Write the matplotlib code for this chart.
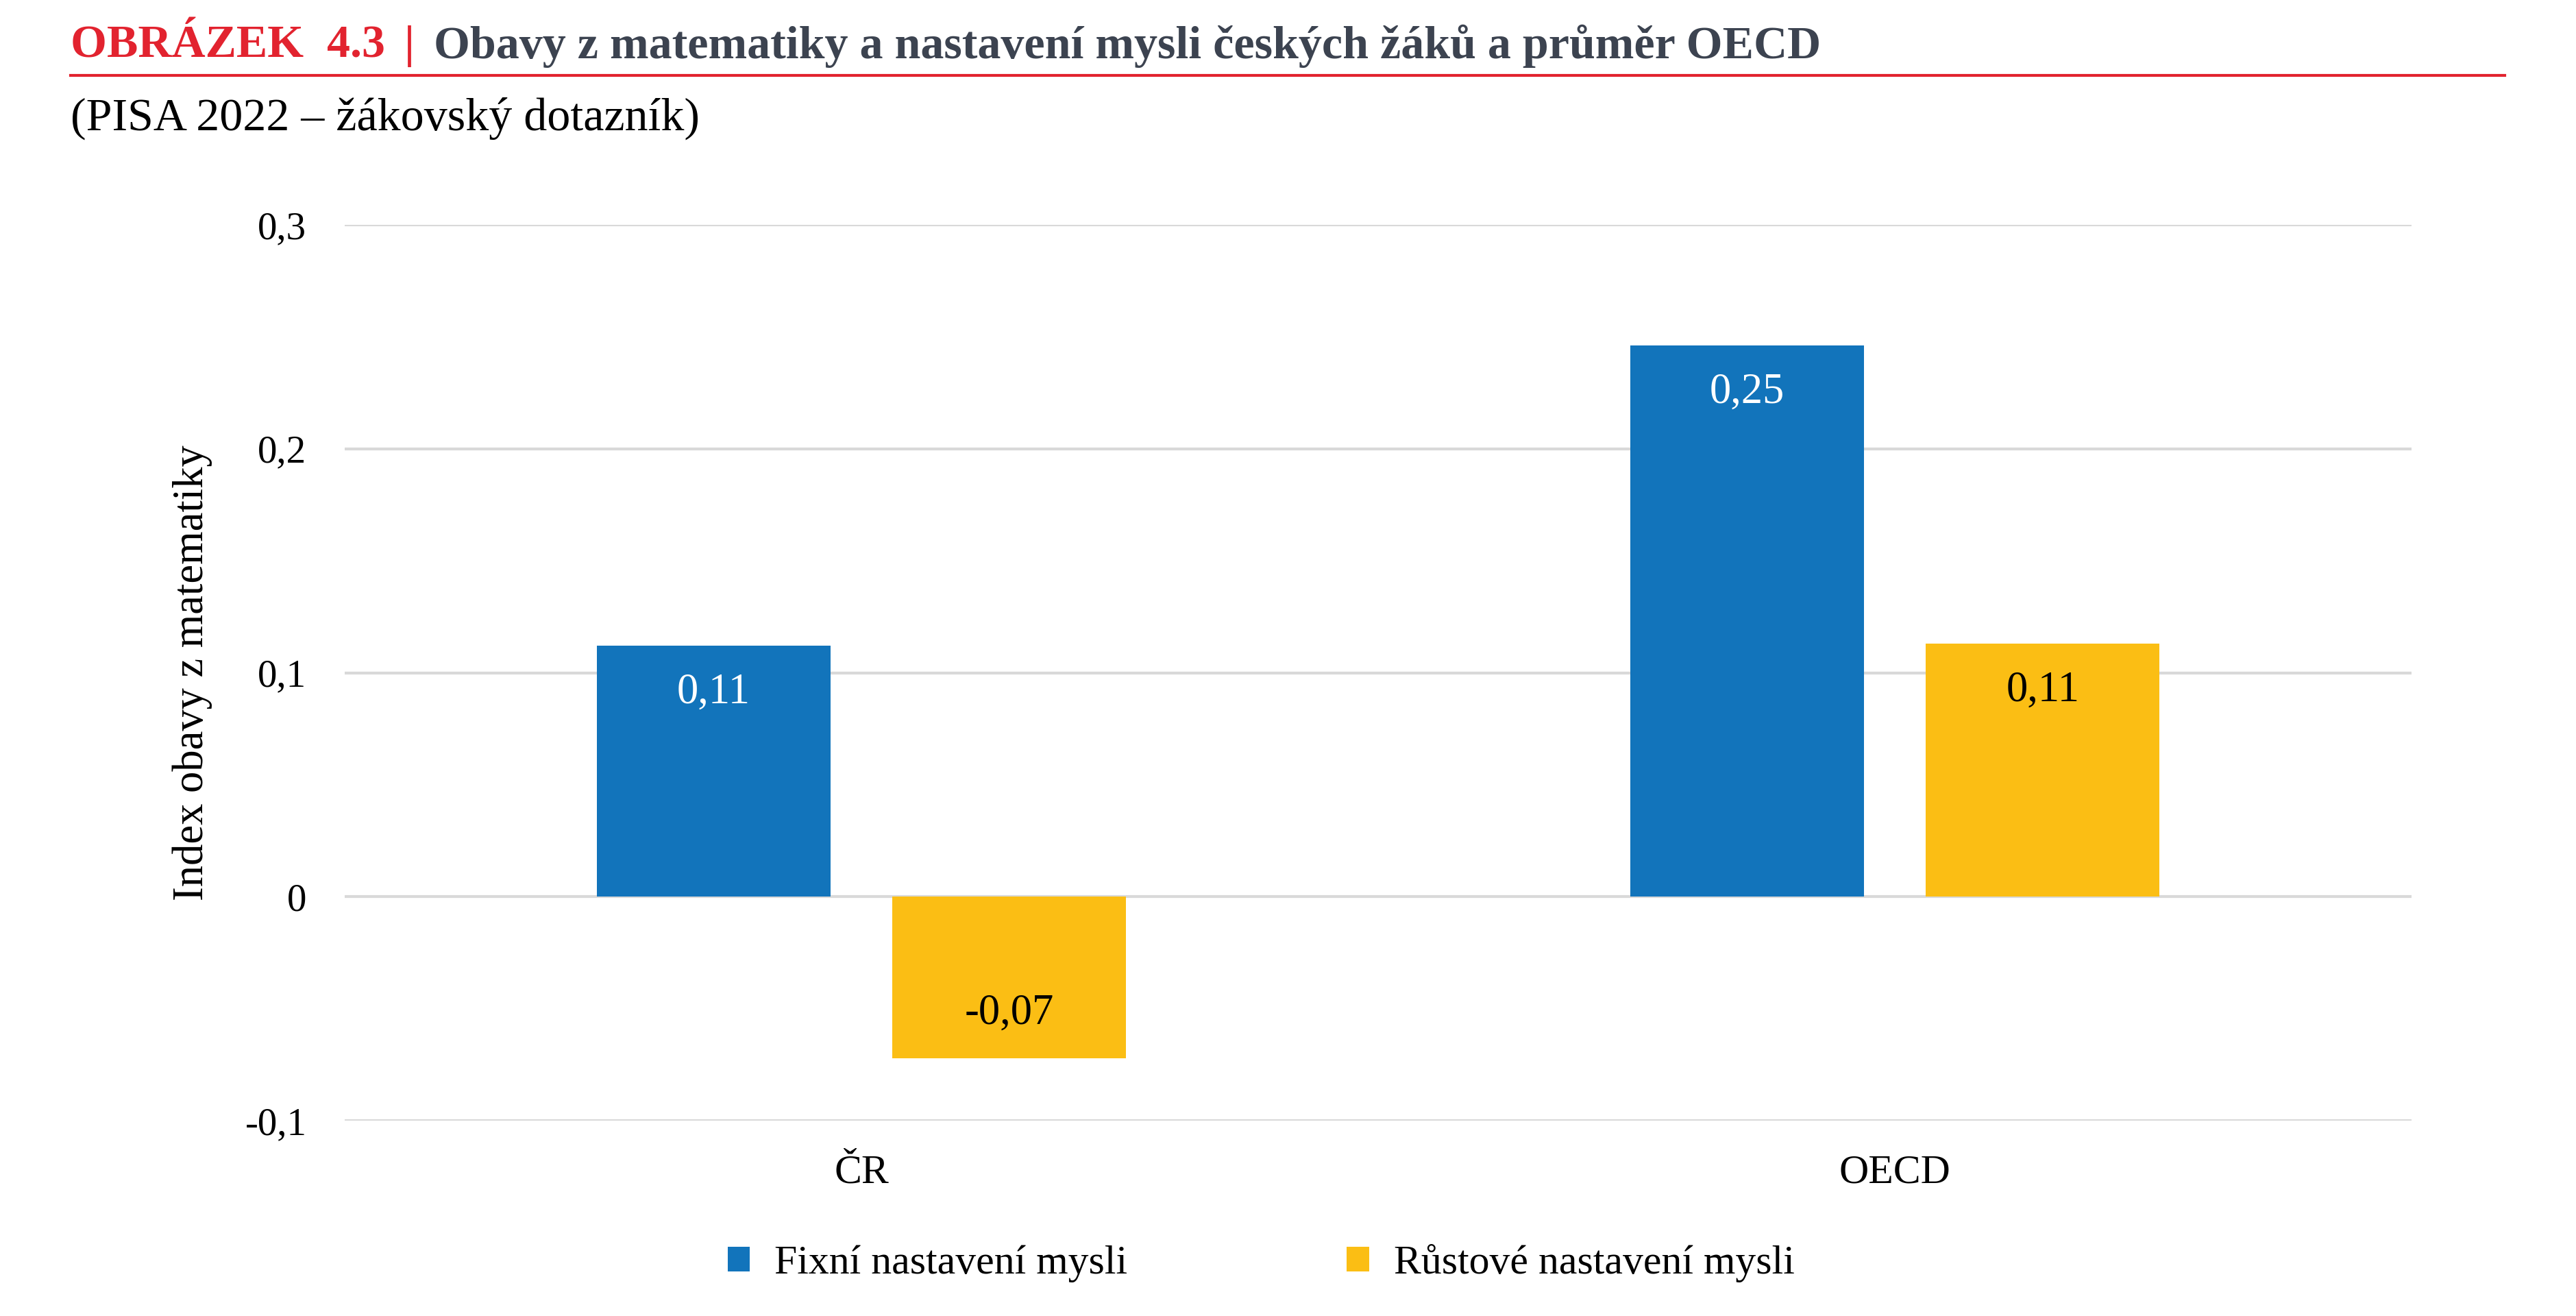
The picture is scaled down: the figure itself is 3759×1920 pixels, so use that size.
import numpy as np
import matplotlib
matplotlib.use("Agg")
import matplotlib.pyplot as plt

plt.rcParams['font.family'] = ['Liberation Serif', 'DejaVu Serif']

# data
categories = ["ČR", "OECD"]
series_names = ["Fixní nastavení mysli", "Růstové nastavení mysli"]
fixed_vals = [0.112, 0.246]
growth_vals = [-0.072, 0.113]
fixed_labels = ["0,11", "0,25"]
growth_labels = ["-0,07", "0,11"]
yticks = [-0.1, 0.0, 0.1, 0.2, 0.3]
ytick_labels = ["-0,1", "0", "0,1", "0,2", "0,3"]

BLUE = "#1274BB"
YELLOW = "#FBBE14"
RED = "#E2232F"
DARK = "#3C4350"
GRID = "#D9D9D9"

W, H = 3759, 1920
fig = plt.figure(figsize=(W / 100, H / 100), dpi=100)

# plot area in pixel coords -> figure fractions
x0, x1 = 503, 3519
y_top, y_bot = 328, 1635
ax = fig.add_axes([x0 / W, 1 - y_bot / H, (x1 - x0) / W, (y_bot - y_top) / H])

x = np.arange(len(categories))
bw = 0.226
off = 0.143
b1 = ax.bar(x - off, fixed_vals, bw, color=BLUE, zorder=3, label=series_names[0])
b2 = ax.bar(x + off, growth_vals, bw, color=YELLOW, zorder=3, label=series_names[1])

ax.set_xlim(-0.5, len(categories) - 0.5)
ax.set_ylim(-0.1, 0.3)
ax.set_yticks(yticks)
ax.set_yticklabels(ytick_labels)
ax.set_xticks(x)
ax.set_xticklabels(categories)
ax.tick_params(axis='y', length=0, pad=40, labelsize=41)
ax.tick_params(axis='x', length=0, pad=36, labelsize=43)
ax.grid(axis='y', color=GRID, linewidth=3, zorder=0)
for s in ax.spines.values():
    s.set_visible(False)
ax.set_ylabel("Index obavy z matematiky", fontsize=45, labelpad=34)

# value labels near the top (or bottom) end of each bar
for bars, labels, col in [(b1, fixed_labels, "white"), (b2, growth_labels, "black")]:
    for rect, lab in zip(bars, labels):
        h = rect.get_height()
        cx = rect.get_x() + rect.get_width() / 2
        if h >= 0:
            ax.text(cx, h - 0.021, lab, ha='center', va='center', color=col, fontsize=45, zorder=4)
        else:
            ax.text(cx, h + 0.020, lab, ha='center', va='center', color=col, fontsize=45, zorder=4)

# legend (slightly left of centre, as in the original)
leg = fig.legend(handles=[b1, b2], labels=series_names, loc='center',
                 bbox_to_anchor=(0.4895, 1 - 1843 / H), ncol=2, frameon=False,
                 fontsize=43, handlelength=0.55, handleheight=0.55,
                 columnspacing=5.35, handletextpad=0.6)

# title block
fig.canvas.draw()
r = fig.canvas.get_renderer()
ty = 1 - 67 / H
t1 = fig.text(103 / W, ty, "OBRÁZEK  4.3", color=RED, fontsize=49, fontweight='bold', va='center')
bb = t1.get_window_extent(r)
t2 = fig.text((bb.x1 + 28) / W, ty, "|", color=RED, fontsize=49, fontweight='bold', va='center')
bb = t2.get_window_extent(r)
fig.text((bb.x1 + 28) / W, ty, "Obavy z matematiky a nastavení mysli českých žáků a průměr OECD",
         color=DARK, fontsize=49, fontweight='bold', va='center')
fig.add_artist(plt.Line2D([103 / W, 3655 / W], [1 - 110 / H, 1 - 110 / H], color=RED, linewidth=3))
fig.text(103 / W, 1 - 173 / H, "(PISA 2022 – žákovský dotazník)", color="black", fontsize=49, va='center')

fig.savefig("out.png", dpi=100, facecolor='white')
